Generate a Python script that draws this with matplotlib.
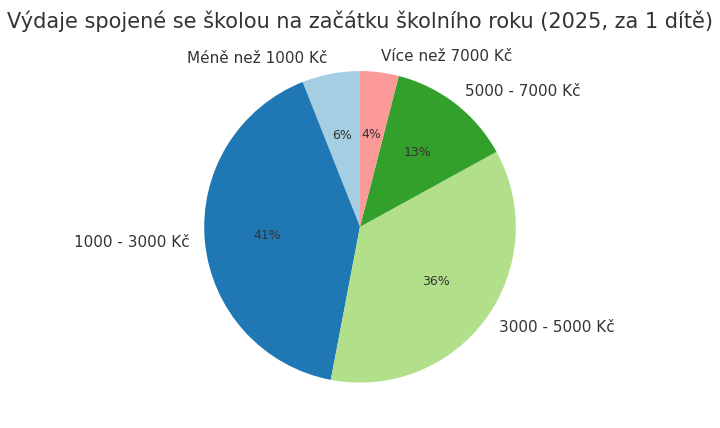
import matplotlib.pyplot as plt

# Data
labels = ['Méně než 1000 Kč', '1000 - 3000 Kč', '3000 - 5000 Kč', '5000 - 7000 Kč', 'Více než 7000 Kč']
shares = [6, 41, 36, 13, 4]
colors = ['#a6cee3', '#1f78b4', '#b2df8a', '#33a02c', '#fb9a99']

fig = plt.figure(figsize=(7.2, 4.28), dpi=100)
ax = fig.add_axes([0.05, 0.015, 0.9, 0.91])
wedges, texts, autotexts = ax.pie(shares, labels=labels, colors=colors, startangle=90,
                                  autopct='%1.0f%%', labeldistance=1.1,
                                  textprops={'color': '#333333', 'fontsize': 11})
for t in autotexts:
    t.set_fontsize(9)
ax.set_aspect('equal')
fig.suptitle('Výdaje spojené se školou na začátku školního roku (2025, za 1 dítě)',
             fontsize=15, color='#333333', y=0.975)
fig.savefig('out.png', dpi=100)
